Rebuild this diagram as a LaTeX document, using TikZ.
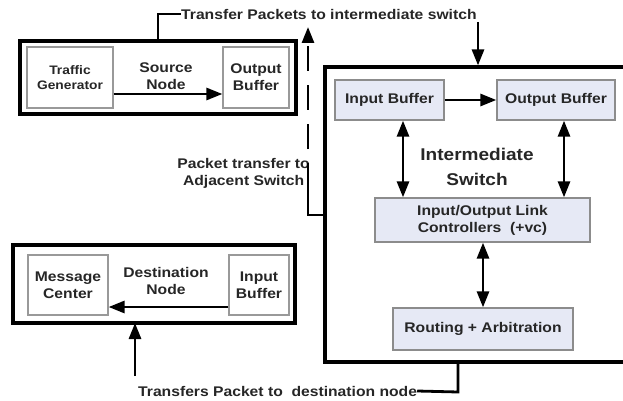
\documentclass[tikz,border=0pt]{standalone}
\usepackage{fontspec}
\setmainfont[FakeStretch=1.12]{Liberation Sans}
\usepackage{xcolor}
\usetikzlibrary{arrows.meta}
\usetikzlibrary{positioning}
\definecolor{swfill}{HTML}{E6E9F5}
\definecolor{txtgray}{HTML}{262626}

\begin{document}
\begin{tikzpicture}[x=1pt, y=-1pt,
	font=\bfseries\fontsize{14}{17}\selectfont, text=txtgray,
	outerbox/.style={draw=black, line width=3.2pt, inner sep=0pt},
	plainbox/.style={draw=black!40, line width=1.2pt, fill=white, align=center, inner sep=0pt},
	swbox/.style={draw=black!45, line width=1.3pt, fill=swfill, align=center, inner sep=0pt},
	arr/.style={line width=2.8pt, -{Triangle[length=16pt,width=12pt]}},
	darr/.style={line width=2.8pt, {Triangle[length=16pt,width=12pt]}-{Triangle[length=16pt,width=12pt]}},
	conn/.style={line width=2.8pt}]
	\useasboundingbox (0,0) rectangle (623,401);
	\clip (0,0) rectangle (623,401);

	% source node
	\node[outerbox, minimum width=276, minimum height=73] (src) at (158,77.5) {};
	\node[plainbox, minimum width=86, minimum height=61, font=\bfseries\fontsize{12.3}{15}\selectfont] (tgen) at (70,77.5) {Traffic\\Generator};
	\node[plainbox, minimum width=66, minimum height=61] (sobuf) at (256,77.5) {Output\\Buffer};
	\node[align=center] (srclbl) at (166,76) {Source\\Node};
	\draw[arr] (tgen.east |- 0,94) -- (sobuf.west |- 0,94);

	% destination node
	\node[outerbox, minimum width=282, minimum height=78] (dst) at (154,284) {};
	\node[plainbox, minimum width=80, minimum height=60] (msg) at (68,285) {Message\\Center};
	\node[plainbox, minimum width=60, minimum height=60] (dibuf) at (259,285) {Input\\Buffer};
	\node[align=center] (dstlbl) at (166,281) {Destination\\Node};
	\draw[arr] (dibuf.west |- 0,307) -- (msg.east |- 0,307);

	% intermediate switch
	\node[outerbox, minimum width=303, minimum height=295] (sw) at (476.5,214.5) {};
	\node[swbox, minimum width=109, minimum height=40] (ib) at (389.5,100) {Input Buffer};
	\node[swbox, minimum width=118, minimum height=40] (ob) at (556,100) {Output Buffer};
	\node[swbox, minimum width=215, minimum height=44] (lc) at (482.5,220) {Input/Output Link\\Controllers~~(+vc)};
	\node[swbox, minimum width=180, minimum height=42] (ra) at (483,329) {Routing + Arbitration};
	\node[align=center, font=\bfseries\fontsize{17}{25}\selectfont] (swlbl) at (477,167) {Intermediate\\Switch};
	\draw[arr] (ib) -- (ob);
	\draw[darr] (ib.south -| 403,0) -- (lc.north -| 403,0);
	\draw[darr] (ob.south -| 564,0) -- (lc.north -| 564,0);
	\draw[darr] (lc.south -| 483,0) -- (ra.north -| 483,0);

	% transfers between the nodes
	\node[anchor=west, inner sep=0pt] (tp) at (181,14) {Transfer Packets to intermediate switch};
	\draw[conn] (src.north) -- (158,14) -- (tp.west);
	\coordinate (tpin) at (478,22);
	\draw[arr] (tpin) -- (tpin |- sw.north);

	\node[anchor=east, align=center, inner sep=0pt] (pt) at (310,173) {Packet transfer to\\Adjacent Switch};
	\coordinate (ptbend) at (308,215);
	\coordinate (ptdash) at (308,188);
	\draw[conn] (sw.west |- ptbend) -- (ptbend) -- (ptdash);
	\draw[arr, dash pattern=on 25pt off 14pt] (ptdash) -- (308,27);

	\node[anchor=west, inner sep=0pt] (bt) at (138,391) {Transfers Packet to~~destination node};
	\draw[conn] (sw.south -| 458,0) -- (458,392) -- (bt.east);
	\draw[arr] (135,376) -- (135,323);
\end{tikzpicture}
\end{document}
